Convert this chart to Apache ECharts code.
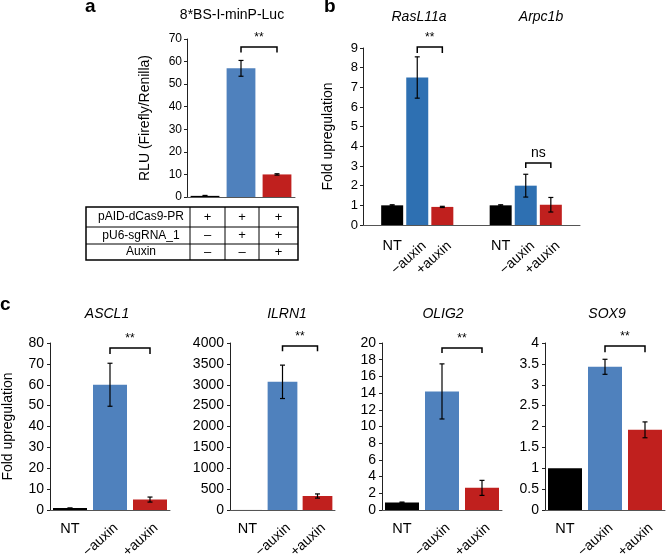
<!DOCTYPE html>
<html>
<head>
<meta charset="utf-8">
<script src="https://cdn.jsdelivr.net/npm/echarts@6/dist/echarts.min.js"></script>
<style>
  html, body { margin: 0; background: #fff; }
  #main { width: 666px; height: 556px; }
</style>
</head>
<body>
<div id="main"></div>
<script>
// ---- data ----
// panel a
const aCats = ['c1', 'c2', 'c3']
const aMeans = [0.5, 57, 10]
const aErrs = [0.2, 3.5, 0.3]
const aSig = [1, 2, 66.5, 64] // from, to, top, leg
const tableRows = [
  ['pAID-dCas9-PR', '+', '+', '+'],
  ['pU6-sgRNA_1', '–', '+', '+'],
  ['Auxin', '–', '–', '+']
]

// panel b
const bGenes = ['RasL11a', 'Arpc1b']
const bConds = ['NT', '−auxin', '+auxin']
const bMeans = [[1.0, 1.0], [7.5, 2.0], [0.92, 1.03]] // by condition, then gene
const bErrs = [[0.03, 0.03], [1.05, 0.58], [0.03, 0.37]]
const bSigTop = [9.05, 3.15]
const bSigLeg = [8.75, 2.9]
const bSigText = ['**', 'ns']

// panel c
const cGenes = ['ASCL1', 'ILRN1', 'OLIG2', 'SOX9']
const cConds = ['NT', '−auxin', '+auxin']
const cMeans = [[0.9, 60, 5], [1, 3070, 335], [0.9, 14.2, 2.65], [1, 3.43, 1.92]]
const cErrs = [[0.05, 10.3, 1.2], [0, 400, 50], [0.05, 3.3, 0.9], [0, 0.18, 0.19]]
const cMax = [80, 4000, 20, 4]
const cStep = [10, 500, 2, 0.5]
const cSigTop = [77.6, 3930, 19.4, 3.93]
const cSigLeg = [74.7, 3800, 18.8, 3.78]

// ---- style ----
const FONT = '"Liberation Sans", Arial, sans-serif'
const condColors = ['#000000', '#4f81bd', '#c0201e']
const bColors = ['#000000', '#2e70b2', '#c0201e']

const grids = [
  {left: 187, top: 39, width: 108, height: 158},
  {left: 363, top: 48, width: 217, height: 177},
  {left: 50, top: 343, width: 120, height: 167},
  {left: 230, top: 343, width: 105, height: 167},
  {left: 382, top: 343, width: 120, height: 167},
  {left: 545, top: 343, width: 120, height: 167}
]

const yAx = (gi, max, step, name, gap, fs, margin) => ({
  type: 'value', gridIndex: gi, min: 0, max: max, interval: step,
  name: name, nameLocation: 'middle', nameGap: gap, nameRotate: 90,
  nameTextStyle: {fontSize: 14, color: '#000', fontFamily: FONT},
  axisLine: {show: true, lineStyle: {color: '#222', width: 1}},
  axisTick: {show: true, length: 3, lineStyle: {color: '#222'}},
  axisLabel: {fontSize: fs, color: '#000', margin: margin, fontFamily: FONT, formatter: v => String(v)},
  splitLine: {show: false}
})
const xAx = (gi, cats) => ({
  type: 'category', gridIndex: gi, data: cats,
  axisLine: {show: true, lineStyle: {color: '#555', width: 1}},
  axisTick: {show: false},
  axisLabel: {show: false}
})

// condition labels under each bar: NT flat, the others slanted
const ROT = 42 * Math.PI / 180
const condRender = (conds, step, dx, dy, ntDy) => (params, api) => {
  const k = api.value(1)
  const p = api.coord([api.value(0), 0])
  const cx = p[0] + (step ? step * (k - 1) : 0)
  const text = conds[k]
  if (text === 'NT') {
    return {type: 'text', x: cx, y: p[1] + ntDy,
      style: {text: text, fill: '#000', font: '14.5px ' + FONT, align: 'center', verticalAlign: 'top'}}
  }
  return {type: 'text', x: cx + dx, y: p[1] + dy, rotation: ROT,
    style: {text: text, fill: '#000', font: '14px ' + FONT, align: 'right', verticalAlign: 'middle'}}
}
const condSeries = (gi, data, conds, step, dx, dy, ntDy) => ({
  type: 'custom', xAxisIndex: gi, yAxisIndex: gi, silent: true, z: 4,
  renderItem: condRender(conds, step, dx, dy, ntDy), data: data, encode: {x: 0}
})

const errRender = (off) => (params, api) => {
  if (api.value(2) === api.value(1)) return null
  const hi = api.coord([api.value(0), api.value(2)])
  const lo = api.coord([api.value(0), api.value(1)])
  const cx = hi[0] + off
  const w = 2.5
  const st = {stroke: '#000', lineWidth: 1.2}
  return {type: 'group', children: [
    {type: 'line', shape: {x1: cx, y1: hi[1], x2: cx, y2: lo[1]}, style: st},
    {type: 'line', shape: {x1: cx - w, y1: hi[1], x2: cx + w, y2: hi[1]}, style: st},
    {type: 'line', shape: {x1: cx - w, y1: lo[1], x2: cx + w, y2: lo[1]}, style: st}
  ]}
}
const errSeries = (gi, data, off) => ({
  type: 'custom', xAxisIndex: gi, yAxisIndex: gi, silent: true, z: 5,
  renderItem: errRender(off), data: data, encode: {x: 0, y: [1, 2]}
})

const sigRender = (off1, off2, text, fs) => (params, api) => {
  const a = api.coord([api.value(0), api.value(2)])
  const b = api.coord([api.value(1), api.value(2)])
  const leg = api.coord([api.value(0), api.value(3)])[1]
  const x1 = a[0] + off1, x2 = b[0] + off2, y = a[1]
  return {type: 'group', children: [
    {type: 'polyline', shape: {points: [[x1, leg], [x1, y], [x2, y], [x2, leg]]},
      style: {stroke: '#000', lineWidth: 1.5, fill: 'none'}},
    {type: 'text', style: {text: text, x: (x1 + x2) / 2, y: y - 3, fill: '#000',
      font: fs + 'px ' + FONT, align: 'center', verticalAlign: 'bottom'}}
  ]}
}
const sigSeries = (gi, row, off1, off2, text, fs) => ({
  type: 'custom', xAxisIndex: gi, yAxisIndex: gi, silent: true, z: 6,
  renderItem: sigRender(off1, off2, text, fs), data: [row], encode: {x: [0, 1], y: [2, 3]}
})

// ---- axes / series ----
const xAxes = [xAx(0, aCats), xAx(1, bGenes)]
const yAxes = [
  yAx(0, 70, 10, 'RLU (Firefly/Renilla)', 35, 12, 5),
  yAx(1, 9, 1, 'Fold upregulation', 28, 13, 5)
]
const series = []

// a
series.push({
  type: 'bar', xAxisIndex: 0, yAxisIndex: 0, barCategoryGap: '20%',
  data: aMeans.map((v, i) => ({value: v, itemStyle: {color: condColors[i]}}))
})
series.push(errSeries(0, aMeans.map((v, i) => [i, v - aErrs[i], v + aErrs[i]]), 0))
series.push(sigSeries(0, aSig, 0, 0, '**', 12))

// b
const BW = 22, BGAP = 0.14
const bStep = BW * (1 + BGAP)
bConds.forEach((cond, k) => {
  series.push({
    type: 'bar', name: cond, xAxisIndex: 1, yAxisIndex: 1,
    barWidth: BW, barGap: (BGAP * 100) + '%',
    itemStyle: {color: bColors[k]},
    data: bMeans[k]
  })
  series.push(errSeries(1, bMeans[k].map((v, g) => [g, v - bErrs[k][g], v + bErrs[k][g]]), (k - 1) * bStep))
})
bGenes.forEach((g, i) => {
  series.push(sigSeries(1, [i, i, bSigTop[i], bSigLeg[i]], 0, bStep, bSigText[i], bSigText[i] === 'ns' ? 14 : 12))
})
const bLabelData = []
bGenes.forEach((g, i) => bConds.forEach((c, k) => bLabelData.push([i, k])))
series.push(condSeries(1, bLabelData, bConds, bStep, 7, 19, 13))

// c
cGenes.forEach((gene, j) => {
  const gi = j + 2
  xAxes.push(xAx(gi, cConds))
  yAxes.push(yAx(gi, cMax[j], cStep[j], j === 0 ? 'Fold upregulation' : '', 35, 14, 6))
  series.push({
    type: 'bar', xAxisIndex: gi, yAxisIndex: gi, barCategoryGap: '15%',
    data: cMeans[j].map((v, i) => ({value: v, itemStyle: {color: condColors[i]}}))
  })
  series.push(errSeries(gi, cMeans[j].map((v, i) => [i, v - cErrs[j][i], v + cErrs[j][i]]), 0))
  series.push(sigSeries(gi, [1, 2, cSigTop[j], cSigLeg[j]], 0, 0, '**', 12))
  series.push(condSeries(gi, cConds.map((c, i) => [i, i]), cConds, 0, 6, 16, 11))
})

// ---- titles ----
const tStyle = (extra) => Object.assign({fontSize: 14, fontWeight: 'normal', color: '#000', fontFamily: FONT}, extra)
const titles = [
  {text: 'a', left: 85, top: -3, padding: 0, textStyle: tStyle({fontSize: 19, fontWeight: 'bold'})},
  {text: 'b', left: 324, top: -3, padding: 0, textStyle: tStyle({fontSize: 19, fontWeight: 'bold'})},
  {text: 'c', left: 0, top: 295, padding: 0, textStyle: tStyle({fontSize: 19, fontWeight: 'bold'})},
  {text: '8*BS-I-minP-Luc', left: 232, top: 8, padding: 0, textAlign: 'center', textStyle: tStyle({})}
]
const bTitleX = [419, 541]
bGenes.forEach((g, i) => titles.push({text: g, left: bTitleX[i], top: 10, padding: 0, textAlign: 'center',
  textStyle: tStyle({fontStyle: 'italic'})}))
const cTitleX = [107, 287, 443, 607]
cGenes.forEach((g, i) => titles.push({text: g, left: cTitleX[i], top: 307, padding: 0, textAlign: 'center',
  textStyle: tStyle({fontStyle: 'italic'})}))

// ---- table under panel a ----
const tabX = [86, 190, 225, 259, 298]
const tabY = [207, 227, 244, 260]
const gEls = [{type: 'rect', shape: {x: tabX[0], y: tabY[0], width: tabX[4] - tabX[0], height: tabY[3] - tabY[0]},
  style: {fill: 'none', stroke: '#000', lineWidth: 1.5}}]
for (let r = 1; r < tabY.length - 1; r++) {
  gEls.push({type: 'line', shape: {x1: tabX[0], y1: tabY[r], x2: tabX[4], y2: tabY[r]}, style: {stroke: '#000', lineWidth: 1}})
}
for (let c = 1; c < tabX.length - 1; c++) {
  gEls.push({type: 'line', shape: {x1: tabX[c], y1: tabY[0], x2: tabX[c], y2: tabY[3]}, style: {stroke: '#000', lineWidth: 1}})
}
tableRows.forEach((row, r) => {
  row.forEach((t, c) => {
    gEls.push({type: 'text', x: (tabX[c] + tabX[c + 1]) / 2 + (c === 0 ? 3 : 0), y: (tabY[r] + tabY[r + 1]) / 2,
      style: {text: t, fill: '#000', font: (c === 0 ? 12 : 13) + 'px ' + FONT,
        align: 'center', verticalAlign: 'middle', textAlign: 'center', textVerticalAlign: 'middle'}})
  })
})

const chart = echarts.init(document.getElementById('main'))
chart.setOption({
  backgroundColor: '#fff',
  animation: false,
  textStyle: {fontFamily: FONT},
  title: titles,
  grid: grids,
  xAxis: xAxes,
  yAxis: yAxes,
  series: series,
  graphic: {elements: gEls}
})
</script>
</body>
</html>
